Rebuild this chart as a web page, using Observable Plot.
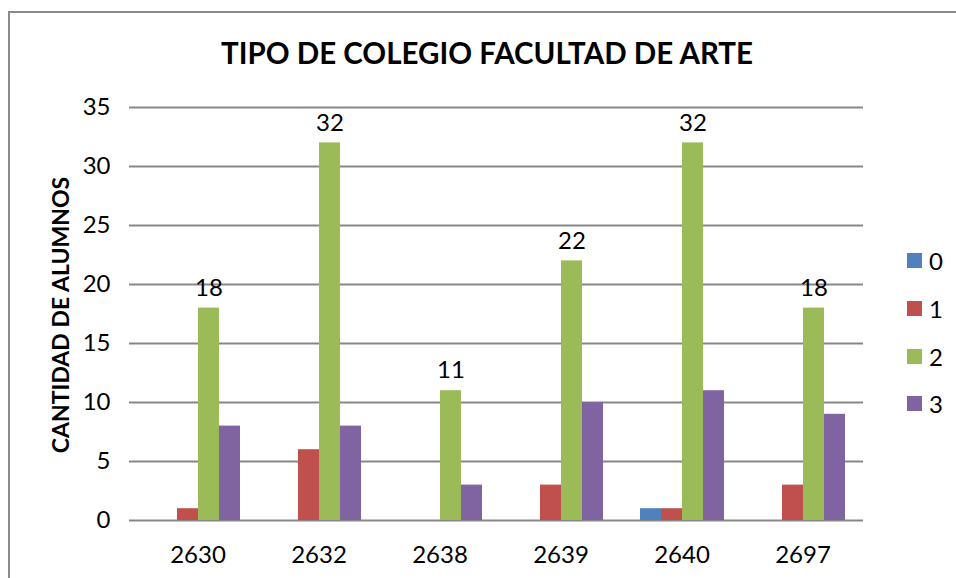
<!DOCTYPE html>
<html><head><meta charset="utf-8">
<script src="https://cdn.jsdelivr.net/npm/d3@7"></script>
<script src="https://cdn.jsdelivr.net/npm/@observablehq/plot@0.6"></script>
<style>
body{margin:0;background:#fff;font-family:Lato,sans-serif;color:#000}
#wrap{position:relative;width:956px;height:578px;overflow:hidden;background:#fff}
#border{position:absolute;left:8px;top:11px;width:1200px;height:1000px;border-left:2px solid #8a8a8a;border-top:2px solid #8a8a8a}
#chart{position:absolute;left:0;top:0}
#title{position:absolute;top:33px;left:0;width:974px;text-align:center;font-weight:bold;font-size:29.5px;line-height:40px}
#ylab{position:absolute;left:60px;top:315px;transform:translate(-50%,-50%) rotate(-90deg);font-weight:bold;font-size:23px;white-space:nowrap}
#legend{position:absolute;left:907px;top:237px}
.li{display:flex;align-items:center;height:47.7px;font-size:24px}
.sw{width:15px;height:15px;margin-right:7px}
</style></head>
<body>
<div id="wrap">
  <div id="border"></div>
  <div id="chart"></div>
  <div id="title">TIPO DE COLEGIO FACULTAD DE ARTE</div>
  <div id="ylab">CANTIDAD DE ALUMNOS</div>
  <div id="legend"></div>
</div>
<script>
const categories = ["2630", "2632", "2638", "2639", "2640", "2697"];
const seriesNames = ["0", "1", "2", "3"];
const serie0 = [0, 0, 0, 0, 1, 0];
const serie1 = [1, 6, 0, 3, 1, 3];
const serie2 = [18, 32, 11, 22, 32, 18];
const serie3 = [8, 8, 3, 10, 11, 9];
const yTicks = [0, 5, 10, 15, 20, 25, 30, 35];
const colors = ["#4F81BD", "#C0504D", "#9BBB59", "#8064A2"];

const allSeries = [serie0, serie1, serie2, serie3];
const table = [];
categories.forEach((c, i) => {
  seriesNames.forEach((s, j) => {
    table.push({cat: c, series: s, value: allSeries[j][i]});
  });
});
const labelRows = categories.map((c, i) => ({cat: c, series: "2", value: serie2[i]}));

const chart = Plot.plot({
  width: 956,
  height: 578,
  marginLeft: 135,
  marginRight: 91,
  marginTop: 107,
  marginBottom: 58,
  style: {fontFamily: "Lato, sans-serif", fontSize: "24px", color: "#000", background: "transparent"},
  fx: {domain: categories, padding: 0, label: null},
  x: {domain: seriesNames, paddingInner: 0, paddingOuter: 0.766, axis: null},
  y: {domain: [0, 35]},
  color: {domain: seriesNames, range: colors},
  marks: [
    Plot.gridY(yTicks, {stroke: "#878787", strokeOpacity: 1, strokeWidth: 2}),
    Plot.axisY(yTicks, {tickSize: 8, tickPadding: 19, label: null, stroke: "#878787", strokeWidth: 2, fill: "#000", line: true}),
    Plot.axisFx({anchor: "bottom", tickSize: 0, tickPadding: 25, label: null, fill: "#000"}),
    Plot.barY(table, {fx: "cat", x: "series", y: "value", fill: "series"}),
    Plot.text(labelRows, {fx: "cat", x: "series", y: "value", text: d => String(d.value), dy: -20, fill: "#000", fontSize: 24})
  ]
});
document.getElementById("chart").appendChild(chart);

const legend = document.getElementById("legend");
seriesNames.forEach((s, i) => {
  const row = document.createElement("div");
  row.className = "li";
  const sw = document.createElement("div");
  sw.className = "sw";
  sw.style.background = colors[i];
  const t = document.createElement("span");
  t.textContent = s;
  row.appendChild(sw);
  row.appendChild(t);
  legend.appendChild(row);
});
</script>
</body></html>
